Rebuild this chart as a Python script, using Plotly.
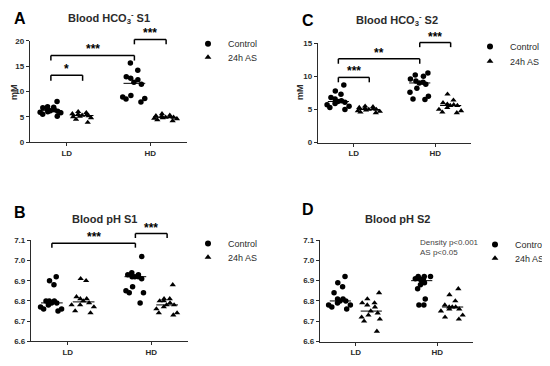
import numpy as np
import plotly.graph_objects as go

# The page body has an 8px margin, so the figure is drawn at (8, 8) inside the
# 550x366 window; all pixel positions below are window pixels.
WIN_W, WIN_H = 550, 366
OFF = 8
W, H = WIN_W - OFF, WIN_H - OFF

# ---------------- data ----------------
categories = ["LD", "HD"]
groups = ["Control", "24h AS"]

# Panel A: Blood HCO3- S1 (mM)
hco3_s1_ld_control = [8.0, 7.0, 6.9, 6.8, 6.6, 6.4, 6.2, 6.1, 6.0, 5.9, 5.8, 5.5, 5.1]
hco3_s1_ld_as = [6.0, 5.8, 5.6, 5.5, 5.4, 5.3, 5.2, 5.1, 5.0, 4.8, 4.5, 3.9]
hco3_s1_hd_control = [15.6, 14.2, 12.9, 12.6, 12.3, 11.8, 11.4, 9.2, 8.9, 8.6, 8.5, 7.9]
hco3_s1_hd_as = [5.6, 5.3, 5.2, 5.1, 5.0, 4.9, 4.9, 4.8, 4.7, 4.6, 4.4, 4.2]

# Panel C: Blood HCO3- S2 (mM)
hco3_s2_ld_control = [8.7, 7.8, 7.3, 6.8, 6.6, 6.3, 6.2, 6.1, 5.9, 5.7, 5.5, 5.3, 5.0]
hco3_s2_ld_as = [5.5, 5.4, 5.3, 5.2, 5.1, 5.0, 5.0, 4.9, 4.8, 4.7, 4.6, 4.5]
hco3_s2_hd_control = [10.5, 10.2, 10.0, 9.6, 9.3, 9.1, 9.0, 8.8, 8.2, 7.6, 7.0, 6.6, 6.5]
hco3_s2_hd_as = [7.3, 6.4, 6.0, 5.8, 5.7, 5.6, 5.6, 5.3, 5.0, 4.8, 4.6, 4.5]

# Panel B: Blood pH S1
ph_s1_ld_control = [6.92, 6.90, 6.88, 6.80, 6.80, 6.80, 6.79, 6.79, 6.78, 6.77, 6.76, 6.76, 6.75]
ph_s1_ld_as = [6.91, 6.90, 6.82, 6.81, 6.81, 6.80, 6.79, 6.78, 6.78, 6.77, 6.75, 6.74]
ph_s1_hd_control = [7.02, 6.94, 6.93, 6.93, 6.92, 6.92, 6.92, 6.91, 6.87, 6.85, 6.84, 6.84, 6.79]
ph_s1_hd_as = [6.88, 6.81, 6.81, 6.80, 6.80, 6.79, 6.78, 6.78, 6.77, 6.76, 6.74, 6.74, 6.73]

# Panel D: Blood pH S2
ph_s2_ld_control = [6.92, 6.89, 6.87, 6.84, 6.81, 6.81, 6.80, 6.80, 6.79, 6.78, 6.78, 6.77, 6.76]
ph_s2_ld_as = [6.84, 6.81, 6.79, 6.79, 6.78, 6.77, 6.75, 6.74, 6.73, 6.72, 6.71, 6.70, 6.65]
ph_s2_hd_control = [6.92, 6.92, 6.92, 6.91, 6.91, 6.91, 6.90, 6.89, 6.88, 6.86, 6.81, 6.78, 6.78]
ph_s2_hd_as = [6.86, 6.83, 6.80, 6.78, 6.77, 6.77, 6.77, 6.76, 6.76, 6.75, 6.73, 6.72, 6.71]

hco3_ticks = [0, 5, 10, 15, 20]
ph_ticks = [6.6, 6.7, 6.8, 6.9, 7.0, 7.1]

# ---------------- layout helpers ----------------
def px(x):
    return (x - OFF) / W

def py(y):
    return 1 - (y - OFF) / H

FONT = "Liberation Sans, Arial, sans-serif"
INK = "#2b2b2b"
OFFSETS = {"Control": -0.19, "24h AS": 0.19}
SYMBOLS = {"Control": "circle", "24h AS": "triangle-up"}
XR = [-0.44, 1.44]

panels = [
    dict(key="A", ax="", letter="A", title="Blood HCO<sub>3</sub><sup>-</sup> S1",
         xd=(30, 187), yd=(37.5, 141.5), yr=(0, 20), ticks=hco3_ticks, fmt="d",
         data={("LD", "Control"): hco3_s1_ld_control, ("LD", "24h AS"): hco3_s1_ld_as,
               ("HD", "Control"): hco3_s1_hd_control, ("HD", "24h AS"): hco3_s1_hd_as},
         letter_pos=(20, 15), title_pos=(109, 14), ytitle_pos=(14, 90),
         legend_pos=(228, 44, 58),
         brackets=[(("LD", "Control"), ("LD", "24h AS"), 13.2, 12.1, "*"),
                   (("LD", "Control"), ("HD", "Control"), 17.1, 16.1, "***"),
                   (("HD", "Control"), ("HD", "24h AS"), 20.25, 19.3, "***")]),
    dict(key="C", ax="2", letter="C", title="Blood HCO<sub>3</sub><sup>-</sup> S2",
         xd=(318, 471), yd=(40, 142), yr=(0, 15), ticks=hco3_ticks[:4], fmt="d",
         data={("LD", "Control"): hco3_s2_ld_control, ("LD", "24h AS"): hco3_s2_ld_as,
               ("HD", "Control"): hco3_s2_hd_control, ("HD", "24h AS"): hco3_s2_hd_as},
         letter_pos=(308, 17), title_pos=(397, 16), ytitle_pos=(300, 90),
         legend_pos=(510, 47, 62),
         brackets=[(("LD", "Control"), ("LD", "24h AS"), 9.84, 9.1, "***"),
                   (("LD", "Control"), ("HD", "Control"), 12.64, 11.9, "**"),
                   (("HD", "Control"), ("HD", "24h AS"), 15.1, 14.4, "***")]),
    dict(key="B", ax="3", letter="B", title="Blood pH S1",
         xd=(31, 188), yd=(242.3, 345.7), yr=(6.6, 7.1), ticks=ph_ticks, fmt=".1f",
         data={("LD", "Control"): ph_s1_ld_control, ("LD", "24h AS"): ph_s1_ld_as,
               ("HD", "Control"): ph_s1_hd_control, ("HD", "24h AS"): ph_s1_hd_as},
         letter_pos=(20, 214), title_pos=(104, 220), ytitle_pos=None,
         legend_pos=(228, 249, 263),
         brackets=[(("LD", "Control"), ("HD", "Control"), 7.086, 7.064, "***"),
                   (("HD", "Control"), ("HD", "24h AS"), 7.134, 7.112, "***")]),
    dict(key="D", ax="4", letter="D", title="Blood pH S2",
         xd=(320, 473), yd=(242, 346), yr=(6.6, 7.1), ticks=ph_ticks, fmt=".1f",
         data={("LD", "Control"): ph_s2_ld_control, ("LD", "24h AS"): ph_s2_ld_as,
               ("HD", "Control"): ph_s2_hd_control, ("HD", "24h AS"): ph_s2_hd_as},
         letter_pos=(308, 211), title_pos=(397, 220), ytitle_pos=None,
         legend_pos=(515, 250, 264),
         brackets=[]),
]

fig = go.Figure()
shapes, annotations = [], []
layout = {}
legend_n = 1

for p in panels:
    xa, ya = "x" + p["ax"], "y" + p["ax"]
    xd = [px(p["xd"][0]), px(p["xd"][1])]
    yd = [py(p["yd"][1]), py(p["yd"][0])]
    r0, r1 = p["yr"]

    def yval_to_paper(v, yd=yd, r0=r0, r1=r1):
        return yd[0] + (v - r0) / (r1 - r0) * (yd[1] - yd[0])

    for ci, cat in enumerate(categories):
        for g in groups:
            vals = p["data"][(cat, g)]
            pos = ci + OFFSETS[g]
            fig.add_trace(go.Box(
                x=[pos] * len(vals), y=vals, xaxis=xa, yaxis=ya,
                boxpoints="all", jitter=1.0, pointpos=0, width=0.34,
                line=dict(width=0), fillcolor="rgba(0,0,0,0)",
                marker=dict(symbol=SYMBOLS[g], size=5.5, color="black"),
                showlegend=False, hoverinfo="y"))
            med = float(np.median(vals))
            fig.add_trace(go.Scatter(
                x=[pos - 0.13, pos + 0.13], y=[med, med], xaxis=xa, yaxis=ya,
                mode="lines", line=dict(color="black", width=1),
                showlegend=False, hoverinfo="skip"))

    # legends (one entry each, for tight spacing)
    tl, y_ctrl, y_as = p["legend_pos"]
    for g, yy in (("Control", y_ctrl), ("24h AS", y_as)):
        lname = "legend" if legend_n == 1 else f"legend{legend_n}"
        fig.add_trace(go.Scatter(
            x=[None], y=[None], xaxis=xa, yaxis=ya, mode="markers", name=g,
            marker=dict(symbol=SYMBOLS[g], size=6, color="black"),
            showlegend=True, legend=lname))
        layout[lname] = dict(x=px(tl - 40), y=py(yy - 3.5), xanchor="left", yanchor="middle",
                             bgcolor="rgba(0,0,0,0)", borderwidth=0,
                             font=dict(family=FONT, size=9, color=INK))
        legend_n += 1

    tickfont = dict(family=FONT, size=8, color=INK, weight="bold")
    layout["xaxis" + p["ax"]] = dict(
        domain=xd, anchor=ya, range=XR, tickvals=[0, 1], ticktext=categories,
        showline=True, linecolor=INK, linewidth=1.3, ticks="outside", ticklen=3,
        tickcolor=INK, showgrid=False, zeroline=False, tickfont=tickfont, fixedrange=True)
    layout["yaxis" + p["ax"]] = dict(
        domain=yd, anchor=xa, range=[r0, r1], tickvals=p["ticks"], tickformat=p["fmt"],
        showline=True, linecolor=INK, linewidth=1.3, ticks="outside", ticklen=3,
        tickcolor=INK, showgrid=False, zeroline=False, tickfont=tickfont, fixedrange=True)

    # panel letter, title, y title
    annotations.append(dict(text=f"<b>{p['letter']}</b>", x=px(p["letter_pos"][0]),
                            y=py(p["letter_pos"][1]), xref="paper", yref="paper",
                            xanchor="center", yanchor="middle",
                            showarrow=False, font=dict(family=FONT, size=16, color="black")))
    annotations.append(dict(text=f"<b>{p['title']}</b>", x=px(p["title_pos"][0]),
                            y=py(p["title_pos"][1]), xref="paper", yref="paper",
                            xanchor="center", yanchor="middle",
                            showarrow=False, font=dict(family=FONT, size=11, color=INK)))
    if p["ytitle_pos"]:
        annotations.append(dict(text="<b>mM</b>", x=px(p["ytitle_pos"][0]),
                                y=py(p["ytitle_pos"][1]), xref="paper", yref="paper",
                                xanchor="center", yanchor="middle",
                                textangle=-90, showarrow=False,
                                font=dict(family=FONT, size=9, color=INK)))

    # significance brackets
    for a, b, ytop, yfoot, label in p["brackets"]:
        xa_pos = categories.index(a[0]) + OFFSETS[a[1]]
        xb_pos = categories.index(b[0]) + OFFSETS[b[1]]
        pt, pf = yval_to_paper(ytop), yval_to_paper(yfoot)
        for (x0, y0, x1, y1) in ((xa_pos, pf, xa_pos, pt), (xa_pos, pt, xb_pos, pt),
                                 (xb_pos, pt, xb_pos, pf)):
            shapes.append(dict(type="line", xref=xa, yref="paper", x0=x0, x1=x1,
                               y0=y0, y1=y1, line=dict(color="black", width=1.5)))
        annotations.append(dict(text=f"<b>{label}</b>", x=(xa_pos + xb_pos) / 2, xref=xa,
                                y=pt, yref="paper", xanchor="center", yanchor="bottom",
                                yshift=-3, showarrow=False,
                                font=dict(family=FONT, size=12, color="black")))

# statistics note in panel D
annotations.append(dict(text="Density p<0.001<br>AS p<0.05", x=px(418), y=py(238),
                        xref="paper", yref="paper", xanchor="left", yanchor="top",
                        align="left", showarrow=False,
                        font=dict(family=FONT, size=8, color="#444444")))

fig.update_layout(
    width=W, height=H, margin=dict(l=0, r=0, t=0, b=0),
    paper_bgcolor="white", plot_bgcolor="white",
    font=dict(family=FONT, color=INK),
    shapes=shapes, annotations=annotations, **layout)

fig.write_html("out.html")
